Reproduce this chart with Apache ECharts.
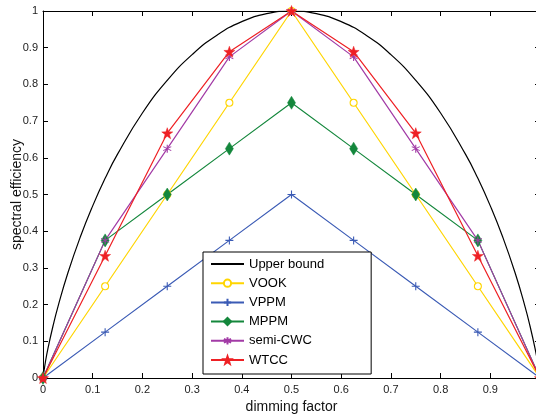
<!DOCTYPE html>
<html>
<head>
<meta charset="utf-8">
<script src="https://cdn.jsdelivr.net/npm/echarts@6/dist/echarts.min.js"></script>
<style>html,body{margin:0;padding:0;background:#fff}#c{width:536px;height:416px}</style>
</head>
<body>
<div id="c"></div>
<script>
// Upper bound curve
const boundX = [0,0.005,0.01,0.02,0.03,0.05,0.075,0.1,0.125,0.15,0.2,0.25,0.3,0.35,0.4,0.45,0.5,0.55,0.6,0.65,0.7,0.75,0.8,0.85,0.875,0.9,0.925,0.95,0.97,0.98,0.99,0.995,1];
const boundY = [0,0.045,0.081,0.141,0.194,0.286,0.384,0.469,0.544,0.61,0.722,0.811,0.881,0.934,0.971,0.993,1,0.993,0.971,0.934,0.881,0.811,0.722,0.61,0.544,0.469,0.384,0.286,0.194,0.141,0.081,0.045,0];
// Marker series
const dimX = [0,0.125,0.25,0.375,0.5,0.625,0.75,0.875,1];
const vook = [0,0.25,0.5,0.75,1,0.75,0.5,0.25,0];
const vppm = [0,0.125,0.25,0.375,0.5,0.375,0.25,0.125,0];
const mppm = [0,0.375,0.5,0.625,0.75,0.625,0.5,0.375,0];
const semiCwc = [0,0.375,0.625,0.875,1,0.875,0.625,0.375,0];
const wtcc = [0,0.333,0.667,0.889,1,0.889,0.667,0.333,0];
const names = ['Upper bound','VOOK','VPPM','MPPM','semi-CWC','WTCC'];

const zip = (xs, ys) => xs.map((x, i) => [x, ys[i]]);
const PLUS = 'path://M0,5L10,5M5,0L5,10';
const AST = 'path://M5,0L5,10M0.7,2.5L9.3,7.5M0.7,7.5L9.3,2.5';
const STAR = 'path://M50,0L61.76,33.82L97.55,34.55L69.02,56.18L79.39,90.45L50,70L20.61,90.45L30.98,56.18L2.45,34.55L38.24,33.82Z';
const FONT = '"Liberation Sans", Arial, Helvetica, sans-serif';

function ser(name, data, color, symbol, size, filled, extra) {
  return Object.assign({
    name, type: 'line', data, symbol, symbolSize: size,
    showAllSymbol: true,
    lineStyle: { color, width: 1.2 },
    itemStyle: { color: filled ? color : '#fff', borderColor: color, borderWidth: filled === 'stroke' ? 1.1 : (filled ? 0.5 : 1.1) },
    emphasis: { disabled: true }, animation: false
  }, extra || {});
}

const chart = echarts.init(document.getElementById('c'));
const axisCommon = {
  type: 'value', min: 0, max: 1, interval: 0.1,
  axisLine: { show: true, onZero: false, lineStyle: { color: '#000', width: 1 } },
  axisTick: { show: true, inside: true, length: 5, lineStyle: { color: '#000' } },
  splitLine: { show: false }
};
chart.setOption({
  animation: false,
  grid: { left: 43, top: 11, width: 497, height: 367, containLabel: false, outerBoundsMode: 'none' },
  xAxis: [
    Object.assign({}, axisCommon, {
      position: 'bottom', name: 'dimming factor', nameLocation: 'middle', nameGap: 22, nameMoveOverlap: false,
      nameTextStyle: { fontFamily: FONT, fontSize: 14, color: '#111' },
      axisLabel: { fontFamily: FONT, fontSize: 11, color: '#222', margin: 6 }
    }),
    Object.assign({}, axisCommon, { position: 'top', axisLabel: { show: false } })
  ],
  yAxis: [
    Object.assign({}, axisCommon, {
      position: 'left', name: 'spectral efficiency', nameLocation: 'middle', nameGap: 19, nameMoveOverlap: false,
      nameTextStyle: { fontFamily: FONT, fontSize: 14, color: '#111' },
      axisLabel: { fontFamily: FONT, fontSize: 11, color: '#222', margin: 5 }
    }),
    Object.assign({}, axisCommon, { position: 'right', axisLabel: { show: false } })
  ],
  legend: {
    data: [{ name: 'Upper bound', itemStyle: { opacity: 0 } }, 'VOOK', 'VPPM', 'MPPM', 'semi-CWC', 'WTCC'],
    orient: 'vertical', left: 203, top: 252,
    backgroundColor: '#fff', borderColor: '#000', borderWidth: 1,
    padding: [5, 47, 7, 7], itemWidth: 33, itemHeight: 9, itemGap: 5.2,
    textStyle: { fontFamily: FONT, fontSize: 13, color: '#000', lineHeight: 14 },
    selectedMode: false
  },
  series: [
    ser('Upper bound', zip(boundX, boundY), '#000', 'none', 0, true, { smooth: true }),
    ser('VOOK', zip(dimX, vook), '#FFD500', 'circle', 7, false),
    ser('VPPM', zip(dimX, vppm), '#3B5BB5', PLUS, 8, 'stroke'),
    ser('MPPM', zip(dimX, mppm), '#14873C', 'diamond', [8, 13], true),
    ser('semi-CWC', zip(dimX, semiCwc), '#A23BA6', AST, 8, 'stroke'),
    ser('WTCC', zip(dimX, wtcc), '#EE2024', STAR, 11, true)
  ]
});
</script>
</body>
</html>
